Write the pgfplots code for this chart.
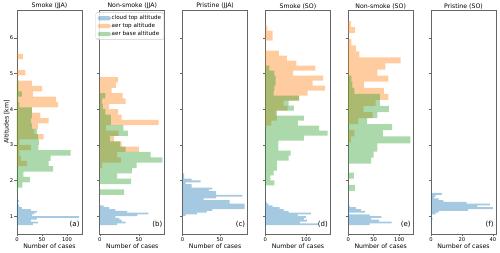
\documentclass[border=0pt]{standalone}
\usepackage{pgfplots}
\pgfplotsset{compat=1.18}
\usepackage{fontspec}
\setmainfont{DejaVu Sans}
\definecolor{C0}{HTML}{1F77B4}
\definecolor{C1}{HTML}{FF7F0E}
\definecolor{C2}{HTML}{2CA02C}
\definecolor{frm}{gray}{0.4}
\newcommand{\fs}{\fontsize{6.2}{7}\selectfont}
\pgfplotsset{
  panel/.style={
    width=65pt, height=224pt, scale only axis,
    anchor=south west,
    ymin=0.5, ymax=6.78, xmin=0,
    ytick={1,2,3,4,5,6}, yticklabels={},
    tick pos=left, tick align=outside,
    major tick length=2.5pt,
    every tick/.style={frm, line width=0.5pt},
    axis line style={frm, line width=0.8pt},
    tick label style={font=\fontsize{5.2}{6}\selectfont},
    xticklabel style={inner sep=0.8pt},
    yticklabel style={inner sep=1pt},
    label style={font=\fs},
    every axis title/.style={font=\fs, at={(0.5,1)}, anchor=south, inner sep=0.5pt, yshift=0.3pt},
    xlabel={Number of cases},
    xlabel style={at={(axis description cs:0.5,0)}, anchor=center, yshift=-12.5pt},
    /pgf/number format/assume math mode=true,
  },
  hist/.style={xbar interval, draw=none, fill opacity=0.4, fill=#1,
    legend image code/.code={\fill[##1] (0pt,-2.1pt) rectangle (13pt,2.1pt);}},
  hcl/.style={hist=C0},
  hat/.style={hist=C1},
  hab/.style={hist=C2},
}
\newcommand{\plab}[1]{\node[anchor=south east, font=\fontsize{7}{8}\selectfont, inner sep=1pt] at (rel axis cs:0.98,0.025) {#1};}
\begin{document}
\begin{tikzpicture}
\useasboundingbox (0,0) rectangle (500pt,253pt);
% (a)
\begin{axis}[panel, at={(17pt,19pt)}, xmax=130, xtick={0,50,100},
  yticklabels={1,2,3,4,5,6}, ylabel={Altitudes [km]},
  ylabel style={at={(axis description cs:-0.158,0.5)}, anchor=center}, title={Smoke (JJA)}]
\addplot[hcl] coordinates {(32,0.75) (42,0.80) (28,0.85) (40,0.90) (124,0.95) (30,1.00) (35,1.05) (40,1.10) (28,1.15) (10,1.20) (5,1.25) (3,1.30) (2,1.35) (4,1.40) (0,1.45)};
\addplot[hat] coordinates {(20,2.40) (8,2.55) (5,2.70) (28,2.85) (5,3.00) (53,3.15) (35,3.30) (42,3.45) (63,3.60) (47,3.75) (30,3.90) (82,4.05) (78,4.20) (32,4.35) (50,4.50) (30,4.65) (0,4.80) (17,4.95) (0,5.10) (0,5.25) (12,5.40) (0,5.55)};
\addplot[hab] coordinates {(2,1.65) (11,1.80) (26,1.95) (13,2.10) (72,2.25) (63,2.40) (67,2.55) (107,2.70) (43,2.85) (44,3.00) (42,3.15) (40,3.30) (30,3.45) (28,3.60) (30,3.75) (30,3.90) (5,4.05) (2,4.20) (10,4.35) (3,4.50) (3,4.65) (0,4.80)};
\plab{(a)}
\end{axis}
% (b)
\begin{axis}[panel, at={(99.8pt,19pt)}, xmax=83, xtick={0,50}, title={Non-smoke (JJA)},
  legend style={at={(0.99,0.99)}, anchor=north east, draw=black!20, rounded corners=1.5pt,
    fill=white, fill opacity=0.8, text opacity=1, font=\fontsize{5.6}{6.2}\selectfont,
    inner sep=2pt, row sep=0.3pt, nodes={inner sep=0.9pt}, cells={anchor=west}}]
\addplot[hcl] coordinates {(22,0.75) (33,0.80) (28,0.85) (25,0.90) (20,0.95) (48,1.00) (62,1.05) (35,1.10) (20,1.15) (12,1.20) (5,1.25) (0,1.30)};
\addlegendentry{cloud top altitude}
\addplot[hat] coordinates {(3,2.35) (27,2.50) (22,2.65) (50,2.80) (28,2.95) (18,3.10) (24,3.25) (8,3.40) (75,3.55) (28,3.70) (23,3.85) (12,4.00) (33,4.15) (29,4.30) (15,4.45) (21,4.60) (23,4.75) (0,4.90)};
\addlegendentry{aer top altitude}
\addplot[hab] coordinates {(31,1.60) (0,1.75) (40,1.90) (22,2.05) (41,2.20) (47,2.35) (80,2.50) (65,2.65) (33,2.80) (26,2.95) (13,3.10) (36,3.25) (30,3.40) (14,3.55) (14,3.70) (7,3.85) (4,4.00) (3,4.15) (7,4.30) (0,4.45)};
\addlegendentry{aer base altitude}
\plab{(b)}
\end{axis}
% (c)
\begin{axis}[panel, at={(182.6pt,19pt)}, xmax=87, xtick={0,50}, title={Pristine (JJA)}]
\addplot[hcl] coordinates {(4,1.00) (19,1.05) (32,1.10) (40,1.15) (83,1.20) (83,1.25) (83,1.30) (63,1.35) (63,1.40) (28,1.45) (45,1.50) (80,1.55) (45,1.60) (45,1.65) (35,1.70) (40,1.75) (12,1.80) (12,1.85) (4,1.90) (24,1.95) (12,2.00) (2,2.05) (2,2.10) (2,2.15) (0,2.20)};
\plab{(c)}
\end{axis}
% (d)
\begin{axis}[panel, at={(265.4pt,19pt)}, xmax=160, xtick={0,100}, title={Smoke (SO)}]
\addplot[hcl] coordinates {(130,0.75) (85,0.80) (102,0.85) (95,0.90) (100,0.95) (80,1.00) (112,1.05) (57,1.10) (45,1.15) (35,1.20) (18,1.25) (8,1.30) (3,1.35) (0,1.40)};
\addplot[hat] coordinates {(15,3.54) (28,3.68) (25,3.82) (55,3.96) (45,4.10) (83,4.24) (104,4.38) (147,4.52) (116,4.66) (142,4.80) (68,4.94) (123,5.08) (76,5.22) (53,5.36) (33,5.50) (0,5.64) (0,5.78) (18,5.92) (18,6.06) (5,6.20) (0,6.34)};
\addplot[hab] coordinates {(22,1.86) (12,2.00) (20,2.14) (28,2.28) (28,2.42) (57,2.56) (62,2.70) (32,2.84) (32,2.98) (95,3.12) (153,3.26) (132,3.40) (80,3.54) (95,3.68) (28,3.82) (70,3.96) (57,4.10) (83,4.24) (20,4.38) (22,4.52) (25,4.66) (25,4.80) (22,4.94) (10,5.08) (0,5.22)};
\plab{(d)}
\end{axis}
% (e)
\begin{axis}[panel, at={(348.2pt,19pt)}, xmax=127.5, xtick={0,50,100}, title={Non-smoke (SO)}]
\addplot[hcl] coordinates {(42,0.75) (85,0.80) (60,0.85) (45,0.90) (65,0.95) (42,1.00) (2,1.05) (33,1.10) (25,1.15) (15,1.20) (3,1.25) (0,1.30)};
\addplot[hat] coordinates {(5,3.07) (12,3.24) (0,3.41) (20,3.58) (48,3.75) (30,3.92) (54,4.09) (79,4.26) (70,4.43) (31,4.60) (79,4.77) (57,4.94) (73,5.11) (103,5.28) (22,5.45) (15,5.62) (6,5.79) (0,5.96) (13,6.13) (5,6.30) (0,6.47)};
\addplot[hab] coordinates {(13,1.71) (0,1.88) (11,2.05) (0,2.22) (45,2.47) (50,2.64) (57,2.81) (122,3.04) (68,3.24) (86,3.41) (37,3.58) (57,3.75) (80,3.92) (62,4.09) (62,4.26) (12,4.43) (8,4.60) (6,4.77) (0,4.94)};
\plab{(e)}
\end{axis}
% (f)
\begin{axis}[panel, at={(431pt,19pt)}, xmax=42, xtick={0,20,40}, title={Pristine (SO)}]
\addplot[hcl] coordinates {(1,0.90) (0,0.95) (3,1.05) (5,1.10) (24,1.15) (40,1.20) (30,1.25) (38,1.30) (23,1.35) (8,1.40) (5,1.45) (2,1.50) (3,1.55) (7,1.60) (0,1.65)};
\plab{(f)}
\end{axis}
\end{tikzpicture}
\end{document}
